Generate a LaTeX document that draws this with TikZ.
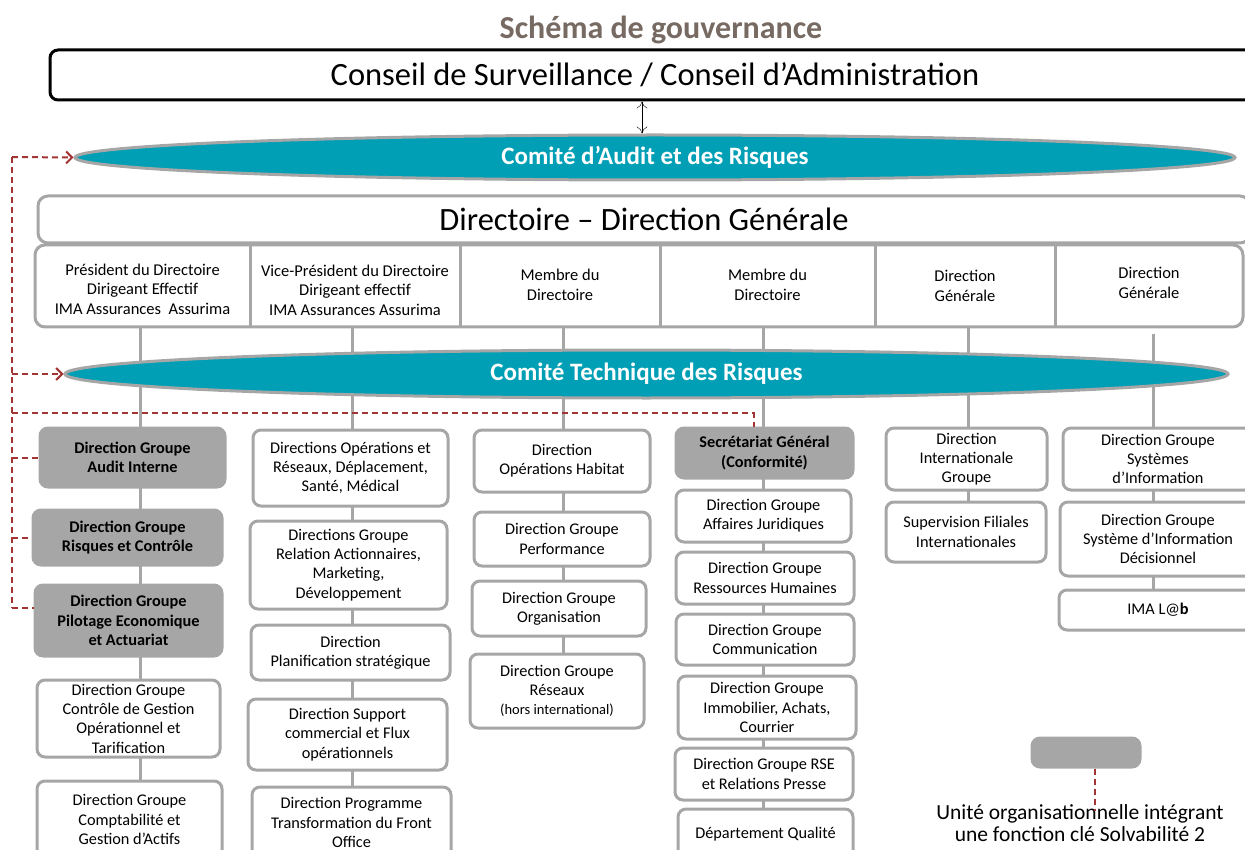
\documentclass[tikz,border=0pt]{standalone}
\usepackage{fontspec}
\setmainfont{Carlito}
\usetikzlibrary{positioning,shapes.geometric,arrows.meta,backgrounds}
\definecolor{comteal}{RGB}{0,159,181}
\definecolor{keyred}{RGB}{163,52,52}
\definecolor{unitgray}{RGB}{166,166,166}
\definecolor{titlebrown}{RGB}{118,106,98}

\begin{document}
\begin{tikzpicture}[x=1pt,y=-1pt,
  unit/.style={draw=unitgray,line width=3pt,rounded corners=8pt,fill=white,align=center,inner sep=1pt,font=\fontsize{16.3}{19.3}\selectfont},
  keyunit/.style={unit,fill=unitgray,font=\fontsize{16.3}{19.3}\selectfont\bfseries},
  comite/.style={ellipse,draw=unitgray,line width=3pt,fill=comteal,text=white,inner sep=0pt,font=\fontsize{25}{28}\selectfont\bfseries},
  cell/.style={align=center,inner sep=0pt,font=\fontsize{16.5}{19.5}\selectfont},
  link/.style={draw=unitgray,line width=3pt},
  keylink/.style={draw=keyred,line width=2pt,dash pattern=on 6pt off 4pt},
  keyarrow/.style={keylink,-{Straight Barb[length=6pt,width=12pt,line width=2pt]}}]
\clip (0,0) rectangle (1245,850);
\useasboundingbox (0,0) rectangle (1245,850);

\node[text=titlebrown,font=\fontsize{32}{35}\selectfont\bfseries] (title) at (661,30) {Schéma de gouvernance};
\node[draw=black,line width=3pt,rounded corners=8pt,minimum width=1210,minimum height=50,inner sep=0pt,font=\fontsize{32.5}{36}\selectfont] (conseil) at (655,75) {Conseil de Surveillance / Conseil d’Administration};
\node[comite,minimum width=1160,minimum height=45] (cac) at (655,157.5) {Comité d’Audit et des Risques};
\draw[{To[length=7pt,width=11pt]}-{To[length=7pt,width=11pt]},thin] ([xshift=-13pt]conseil.south) -- ([xshift=-13pt]conseil.south |- cac.north);

\node[unit,rounded corners=10pt,minimum width=1212,minimum height=47,inner sep=0pt,font=\fontsize{32.5}{36}\selectfont] (directoire) at (644,219.5) {Directoire – Direction Générale};
\node[unit,rounded corners=10pt,minimum width=1208,minimum height=82] (rowbox) at (639,286) {};
\node[cell,minimum width=215] (p1) at (142.5,289) {Président du Directoire\\Dirigeant Effectif\\IMA Assurances\ \ Assurima};
\node[cell,minimum width=210] (p2) at (355,290) {Vice-Président du Directoire\\Dirigeant effectif\\IMA Assurances Assurima};
\node[cell,minimum width=200] (p3) at (560,285) {Membre du\\Directoire};
\node[cell,minimum width=215] (p4) at (767.5,285) {Membre du\\Directoire};
\node[cell,minimum width=180] (p5) at (965,286) {Direction\\Générale};
\node[cell,minimum width=188] (p6) at (1149,283) {Direction\\Générale};
\foreach \c in {p1,p2,p3,p4,p5}
  \draw[link] (\c.east |- rowbox.north) -- (\c.east |- rowbox.south);

\node[comite,minimum width=1163,minimum height=48] (ctr) at (646.5,374) {Comité Technique des Risques};

\node[keyunit,minimum width=185,minimum height=59] (audit) at (132.5,457.5) {Direction Groupe\\Audit Interne};
\node[keyunit,minimum width=189,minimum height=55] (risques) at (127.5,537.5) {Direction Groupe\\Risques et Contrôle};
\node[keyunit,minimum width=187,minimum height=71] (pilotage) at (128.5,620.5) {Direction Groupe\\Pilotage Economique\\et Actuariat};
\node[unit,minimum width=183,minimum height=77] (gestion) at (128.5,718.5) {Direction Groupe\\Contrôle de Gestion\\Opérationnel et\\Tarification};
\node[unit,minimum width=185,minimum height=77] (compta) at (129.5,819.5) {Direction Groupe\\Comptabilité et\\Gestion d’Actifs};

\node[unit,minimum width=195,minimum height=76] (operations) at (350.5,468) {Directions Opérations et\\Réseaux, Déplacement,\\Santé, Médical};
\node[unit,minimum width=197,minimum height=88] (relation) at (348.5,565) {Directions Groupe\\Relation Actionnaires,\\Marketing,\\Développement};
\node[unit,minimum width=199,minimum height=55] (planif) at (350.5,652.5) {Direction\\Planification stratégique};
\node[unit,minimum width=199,minimum height=71] (support) at (347.5,734.5) {Direction Support\\commercial et Flux\\opérationnels};
\node[unit,minimum width=199,minimum height=71] (programme) at (351.5,822.5) {Direction Programme\\Transformation du Front\\Office};

\node[unit,minimum width=176,minimum height=62] (habitat) at (562,461) {Direction\\Opérations Habitat};
\node[unit,minimum width=176,minimum height=54] (performance) at (562,539) {Direction Groupe\\Performance};
\node[unit,minimum width=174,minimum height=55] (organisation) at (559,608.5) {Direction Groupe\\Organisation};
\node[unit,minimum width=174,minimum height=74] (reseaux) at (557,691) {Direction Groupe\\Réseaux\\{\fontsize{14.5}{17}\selectfont(hors international)}};

\node[keyunit,minimum width=177,minimum height=50] (secgen) at (764.5,453) {Secrétariat Général\\(Conformité)};
\node[unit,minimum width=175,minimum height=52] (juridique) at (763.5,516) {Direction Groupe\\Affaires Juridiques};
\node[unit,minimum width=178,minimum height=52] (rh) at (765,578) {Direction Groupe\\Ressources Humaines};
\node[unit,minimum width=178,minimum height=51] (communication) at (765,639.5) {Direction Groupe\\Communication};
\node[unit,minimum width=178,minimum height=63] (immobilier) at (767,707.5) {Direction Groupe\\Immobilier, Achats,\\Courrier};
\node[unit,minimum width=178,minimum height=52] (rse) at (764,774) {Direction Groupe RSE\\et Relations Presse};
\node[unit,minimum width=175,minimum height=51] (qualite) at (765.5,834.5) {Département Qualité};

\node[unit,minimum width=161,minimum height=62] (international) at (966.5,459) {Direction\\Internationale\\Groupe};
\node[unit,minimum width=160,minimum height=60] (filiales) at (966,532) {Supervision Filiales\\Internationales};

\node[unit,minimum width=190,minimum height=62] (si) at (1158,459) {Direction Groupe\\Systèmes\\d’Information};
\node[unit,minimum width=196,minimum height=74] (decisionnel) at (1158,539) {Direction Groupe\\Système d’Information\\Décisionnel};
\node[unit,minimum width=198,minimum height=40] (lab) at (1158,610) {IMA L@\textbf{b}};

\begin{pgfonlayer}{background}
\draw[link] ([xshift=-2pt]p1.south |- rowbox.south) -- ([xshift=-2pt]p1.south |- compta.north);
\draw[link] ([xshift=-3pt]p2.south |- rowbox.south) -- ([xshift=-3pt]p2.south |- programme.north);
\draw[link] ([xshift=3pt]p3.south |- rowbox.south) -- ([xshift=3pt]p3.south |- reseaux.north);
\draw[link] ([xshift=-4pt]p4.south |- rowbox.south) -- ([xshift=-4pt]p4.south |- qualite.north);
\draw[link] ([xshift=3pt]p5.south |- rowbox.south) -- ([xshift=3pt]p5.south |- filiales.north);
\draw[link] ([xshift=4pt,yshift=-6pt]p6.south |- rowbox.south) -- ([xshift=4pt]p6.south |- lab.north);
\end{pgfonlayer}

\coordinate (keytop) at (12,157);
\coordinate (keymid) at (12,413);
\coordinate (keybot) at (12,608);
\draw[keylink] (keytop) -- (keybot);
\draw[keyarrow] (keytop) -- (cac.west);
\draw[keyarrow] (keytop |- ctr.west) -- (ctr.west);
\draw[keylink] (keymid) -| ([xshift=-11pt]secgen.north);
\draw[keylink] (keytop |- audit.west) -- (audit.west);
\draw[keylink] (keytop |- risques.west) -- (risques.west);
\draw[keylink] (keybot) -- (keybot -| pilotage.west);

\node[keyunit,minimum width=108,minimum height=29] (legbox) at (1086,752.5) {};
\node[inner sep=0pt,align=center,font=\fontsize{21.5}{22.5}\selectfont] (legtext) at (1080,823) {Unité organisationnelle intégrant\\une fonction clé Solvabilité 2};
\draw[keylink] ([xshift=9pt]legbox.south) -- ([xshift=9pt,yshift=-7pt]legbox.south |- legtext.north);
\end{tikzpicture}
\end{document}
